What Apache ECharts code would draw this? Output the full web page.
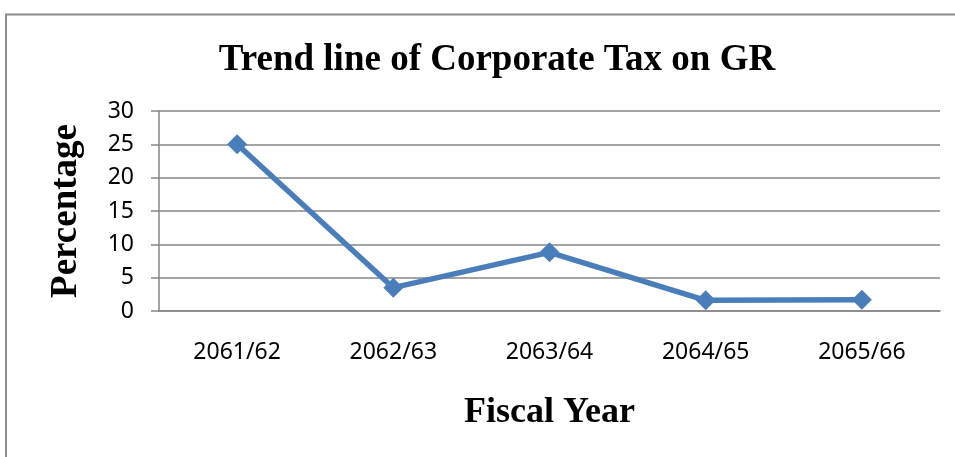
<!DOCTYPE html>
<html>
<head>
<meta charset="utf-8">
<script src="https://cdn.jsdelivr.net/npm/echarts@6/dist/echarts.min.js"></script>
<style>
  html, body { margin: 0; padding: 0; background: #fff; }
  #chart { width: 955px; height: 457px; }
</style>
</head>
<body>
<div id="chart"></div>
<script>
// Corporate tax as a share of government revenue, by fiscal year
const fiscalYears = ['2061/62', '2062/63', '2063/64', '2064/65', '2065/66'];
const taxShare = [25, 3.5, 8.8, 1.6, 1.7];
const yTicks = { min: 0, max: 30, interval: 5 };

const axisGray = '#868686';
const serif = '"Liberation Serif", "DejaVu Serif", serif';
const sans = '"Noto Sans", "Open Sans", sans-serif';

const chart = echarts.init(document.getElementById('chart'));
chart.setOption({
  animation: false,
  backgroundColor: '#fff',
  title: {
    text: 'Trend line of Corporate Tax on GR',
    left: 492,
    top: 37,
    textAlign: 'center',
    textStyle: { fontFamily: serif, fontWeight: 'bold', fontSize: 37, color: '#000' }
  },
  graphic: [
    {
      type: 'polyline',
      shape: { points: [[6, 457], [6, 14.5], [955, 14.5]] },
      style: { stroke: '#8c8c8c', lineWidth: 2, fill: null }
    }
  ],
  grid: { left: 159, top: 111, right: 15, bottom: 146 },
  xAxis: {
    type: 'category',
    data: fiscalYears,
    boundaryGap: true,
    name: 'Fiscal Year',
    nameLocation: 'middle',
    nameGap: 84,
    nameTextStyle: { fontFamily: serif, fontWeight: 'bold', fontSize: 36, color: '#000' },
    axisLine: { show: true, lineStyle: { color: axisGray, width: 1.5 } },
    axisTick: { show: false },
    axisLabel: { fontFamily: sans, fontSize: 23, color: '#000', margin: 30 },
    splitLine: { show: false }
  },
  yAxis: {
    type: 'value',
    min: yTicks.min,
    max: yTicks.max,
    interval: yTicks.interval,
    name: 'Percentage',
    nameLocation: 'middle',
    nameGap: 74,
    nameRotate: 90,
    nameTextStyle: { fontFamily: serif, fontWeight: 'bold', fontSize: 37, color: '#000' },
    axisLine: { show: true, lineStyle: { color: axisGray, width: 1.5 } },
    axisTick: { show: true, inside: false, length: 8, lineStyle: { color: axisGray, width: 1.5 } },
    axisLabel: { fontFamily: sans, fontSize: 23, color: '#000', margin: 25 },
    splitLine: { show: true, lineStyle: { color: axisGray, width: 1.5 } }
  },
  series: [
    {
      type: 'line',
      data: taxShare,
      symbol: 'diamond',
      symbolSize: 20,
      lineStyle: { color: '#4a7ebb', width: 5.5 },
      itemStyle: { color: '#4a7ebb' }
    }
  ]
});
</script>
</body>
</html>
